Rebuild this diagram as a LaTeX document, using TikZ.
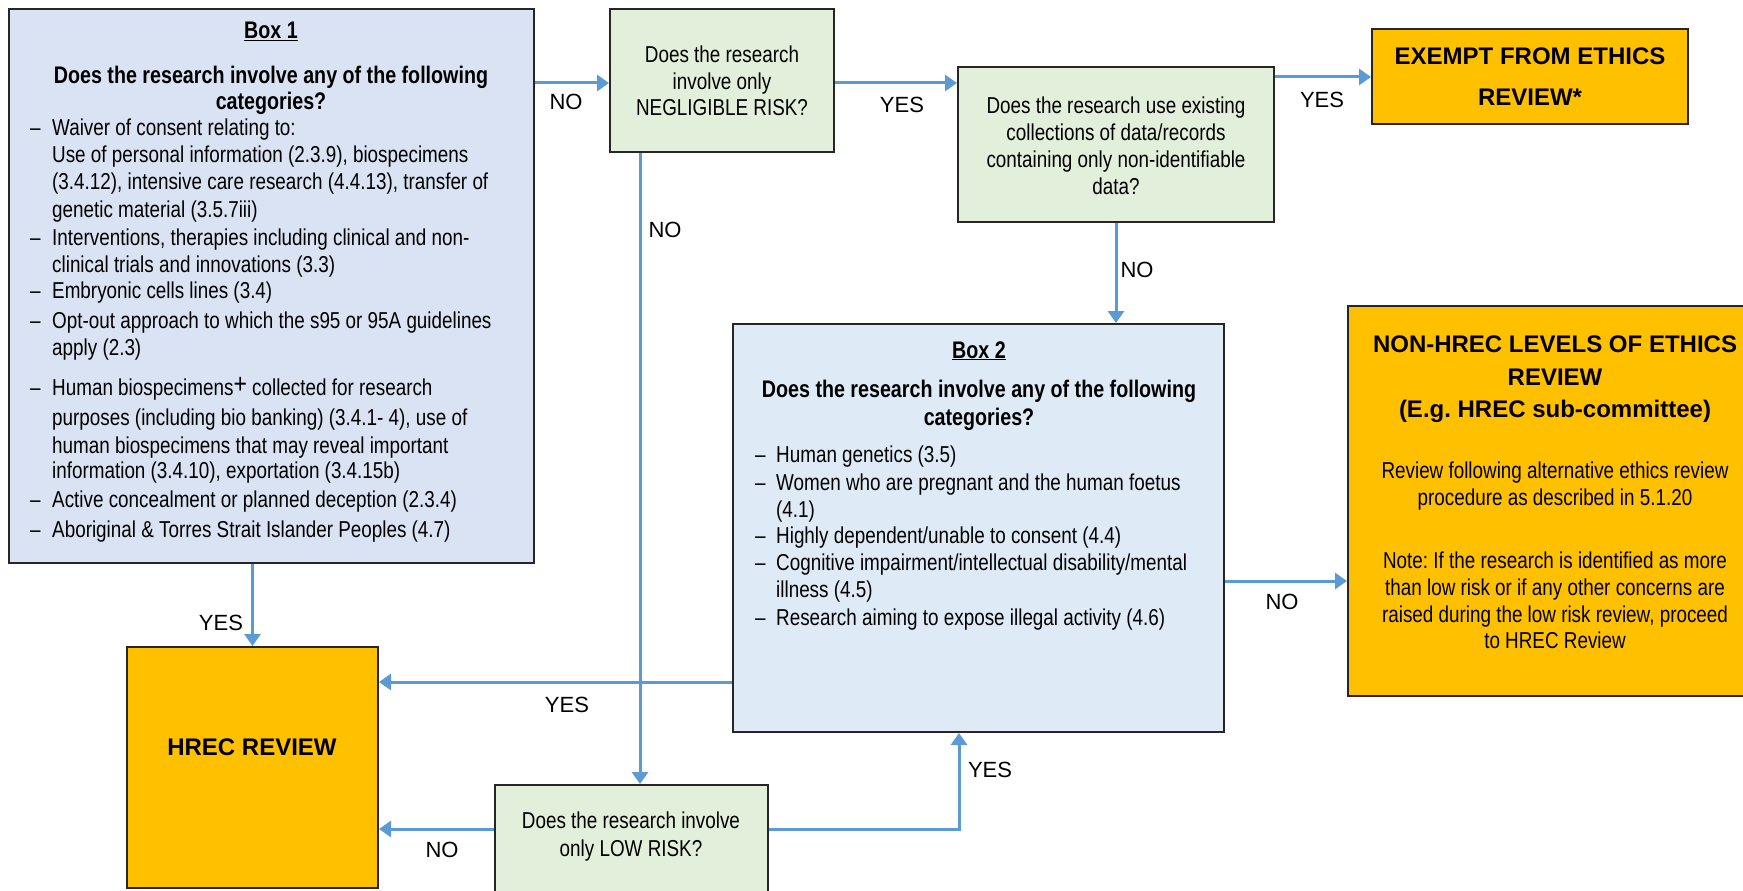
\documentclass[tikz,border=0pt]{standalone}
\usepackage{fontspec}
\setmainfont{Liberation Sans}
\newfontfamily\nar[FakeStretch=0.82]{Liberation Sans}
\usetikzlibrary{arrows.meta}
\definecolor{bluea}{RGB}{218,227,243}
\definecolor{blueb}{RGB}{222,235,247}
\definecolor{greenb}{RGB}{226,239,218}
\definecolor{orangeb}{RGB}{255,192,0}
\definecolor{arrowc}{RGB}{91,155,213}
\definecolor{bord}{RGB}{38,38,38}
\frenchspacing
\begin{document}
\begin{tikzpicture}[x=1pt,y=-1pt,
  box/.style={draw=bord, line width=2pt, rectangle, inner sep=0pt},
  arr/.style={draw=arrowc, line width=3pt, -{Triangle[length=12pt,width=16pt]}},
  lab/.style={inner sep=0pt, anchor=base, font=\fontsize{22}{22}\selectfont},
  tl/.style={inner sep=0pt, anchor=base west, font=\nar\fontsize{23}{27}\selectfont},
  tc/.style={inner sep=0pt, anchor=base, font=\nar\fontsize{23}{27}\selectfont},
  th/.style={inner sep=0pt, anchor=base, font=\nar\bfseries\fontsize{24}{27}\selectfont},
  big/.style={inner sep=0pt, anchor=base, font=\bfseries\fontsize{24}{24}\selectfont},
]
\useasboundingbox (0,0) rectangle (1743,891);
\fill[white] (0,0) rectangle (1743,891);

% boxes
\node[box, fill=bluea, minimum width=525pt, minimum height=554pt] (box1) at (271.5,286) {};
\node[box, fill=greenb, minimum width=224pt, minimum height=143pt] (negl) at (722,80.5) {};
\node[box, fill=greenb, minimum width=316pt, minimum height=155pt] (exist) at (1116,144.5) {};
\node[box, fill=orangeb, minimum width=316pt, minimum height=95pt] (exempt) at (1530,76.5) {};
\node[box, fill=blueb, minimum width=491pt, minimum height=408pt] (box2) at (978.5,528) {};
\node[box, fill=orangeb, minimum width=412pt, minimum height=390pt] (nonhrec) at (1554,501) {};
\node[box, fill=orangeb, minimum width=251pt, minimum height=241pt] (hrec) at (252.5,767.5) {};
\node[box, fill=greenb, minimum width=273pt, minimum height=115pt] (low) at (631.5,842.5) {};

% helper coordinates
\coordinate (y83) at (0,83);
\coordinate (y77) at (0,77);
\coordinate (y581) at (0,581);
\coordinate (y682) at (0,682);
\coordinate (y829) at (0,829);
\coordinate (x640) at (640,0);
\coordinate (x959) at (959,0);

% connectors
\draw[arr] (box1.east |- y83) -- (negl.west |- y83);
\draw[arr] (negl.east |- y83) -- (exist.west |- y83);
\draw[arr] (exist.east |- y77) -- (exempt.west |- y77);
\draw[arr] (exist.south) -- (exist.south |- box2.north);
\draw[arr] (box2.east |- y581) -- (nonhrec.west |- y581);
\draw[arr] (hrec.north |- box1.south) -- (hrec.north);
\draw[arr] (box2.west |- y682) -- (hrec.east |- y682);
\draw[arr] (x640 |- negl.south) -- (x640 |- low.north);
\draw[arr] (low.west |- y829) -- (hrec.east |- y829);
\draw[arr] (low.east |- y829) -| (x959 |- box2.south);

% connector labels
\node[lab] (l1) at (566,110) {NO};
\node[lab] (l2) at (902,112) {YES};
\node[lab] (l3) at (1322,107) {YES};
\node[lab] (l4) at (1137,277) {NO};
\node[lab] (l5) at (665,237) {NO};
\node[lab] (l6) at (1282,609) {NO};
\node[lab] (l7) at (221,630) {YES};
\node[lab] (l8) at (567,712) {YES};
\node[lab] (l9) at (442,857) {NO};
\node[lab] (l10) at (990,777) {YES};

% Box 1 text
\node[th] (b1h0) at (271,39) {\underline{Box 1}};
\node[th] (b1h1) at (271,84) {Does the research involve any of the following};
\node[th] (b1h2) at (271,110) {categories?};
\node[tl] (b1d1) at (30,135) {–};
\node[tl] (b1t1) at (52,135) {Waiver of consent relating to:};
\node[tl] (b1t2) at (52,162) {Use of personal information (2.3.9), biospecimens};
\node[tl] (b1t3) at (52,189) {(3.4.12), intensive care research (4.4.13), transfer of};
\node[tl] (b1t4) at (52,217) {genetic material (3.5.7iii)};
\node[tl] (b1d5) at (30,245) {–};
\node[tl] (b1t5) at (52,245) {Interventions, therapies including clinical and non-};
\node[tl] (b1t6) at (52,272) {clinical trials and innovations (3.3)};
\node[tl] (b1d7) at (30,298) {–};
\node[tl] (b1t7) at (52,298) {Embryonic cells lines (3.4)};
\node[tl] (b1d8) at (30,328) {–};
\node[tl] (b1t8) at (52,328) {Opt-out approach to which the s95 or 95A guidelines};
\node[tl] (b1t9) at (52,355) {apply (2.3)};
\node[tl] (b1d10) at (30,395) {–};
\node[tl] (b1t10) at (52,395) {Human biospecimens{\fontsize{28}{28}\selectfont\raisebox{2pt}{+}} collected for research};
\node[tl] (b1t11) at (52,425) {purposes (including bio banking) (3.4.1- 4), use of};
\node[tl] (b1t12) at (52,453) {human biospecimens that may reveal important};
\node[tl] (b1t13) at (52,478) {information (3.4.10), exportation (3.4.15b)};
\node[tl] (b1d14) at (30,507) {–};
\node[tl] (b1t14) at (52,507) {Active concealment or planned deception (2.3.4)};
\node[tl] (b1d15) at (30,537) {–};
\node[tl] (b1t15) at (52,537) {Aboriginal \& Torres Strait Islander Peoples (4.7)};

% Box 2 text
\node[th] (b2h0) at (979,358) {\underline{Box 2}};
\node[th] (b2h1) at (979,397) {Does the research involve any of the following};
\node[th] (b2h2) at (979,425) {categories?};
\node[tl] (b2d1) at (755,462) {–};
\node[tl] (b2t1) at (776,462) {Human genetics (3.5)};
\node[tl] (b2d2) at (755,490) {–};
\node[tl] (b2t2) at (776,490) {Women who are pregnant and the human foetus};
\node[tl] (b2t3) at (776,517) {(4.1)};
\node[tl] (b2d4) at (755,543) {–};
\node[tl] (b2t4) at (776,543) {Highly dependent/unable to consent (4.4)};
\node[tl] (b2d5) at (755,570) {–};
\node[tl] (b2t5) at (776,570) {Cognitive impairment/intellectual disability/mental};
\node[tl] (b2t6) at (776,597) {illness (4.5)};
\node[tl] (b2d7) at (755,625) {–};
\node[tl] (b2t7) at (776,625) {Research aiming to expose illegal activity (4.6)};

% green boxes text
\node[tc] (n1) at (722,63) {Does the research};
\node[tc] (n2) at (722,89) {involve only};
\node[tc] (n3) at (722,115) {NEGLIGIBLE RISK?};
\node[tc] (e1) at (1116,113) {Does the research use existing};
\node[tc] (e2) at (1116,140) {collections of data/records};
\node[tc] (e3) at (1116,167) {containing only non-identifiable};
\node[tc] (e4) at (1116,194) {data?};
\node[tc] (w1) at (631,828) {Does the research involve};
\node[tc] (w2) at (631,856) {only LOW RISK?};

% orange boxes text
\node[big] (x1) at (1530,65) {EXEMPT FROM ETHICS};
\node[big] (x2) at (1530,105) {REVIEW*};
\node[big] (h1) at (252,755) {HREC REVIEW};
\node[big] (r1) at (1555,352) {NON-HREC LEVELS OF ETHICS};
\node[big] (r2) at (1555,385) {REVIEW};
\node[big] (r3) at (1555,417) {(E.g. HREC sub-committee)};
\node[tc] (r4) at (1555,478) {Review following alternative ethics review};
\node[tc] (r5) at (1555,505) {procedure as described in 5.1.20};
\node[tc] (r6) at (1555,568) {Note: If the research is identified as more};
\node[tc] (r7) at (1555,595) {than low risk or if any other concerns are};
\node[tc] (r8) at (1555,622) {raised during the low risk review, proceed};
\node[tc] (r9) at (1555,648) {to HREC Review};
\end{tikzpicture}
\end{document}
